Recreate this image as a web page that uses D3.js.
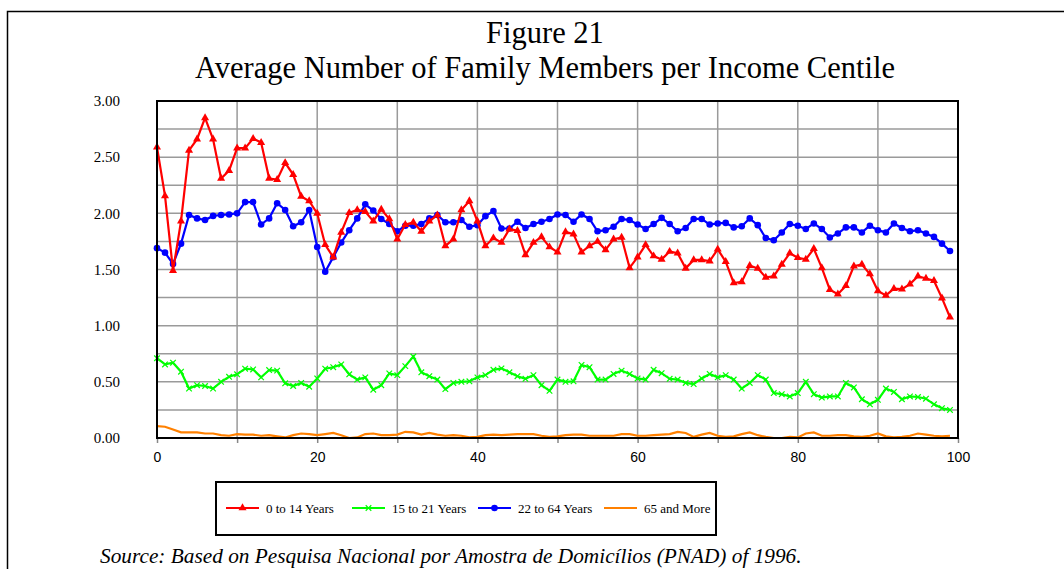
<html>
<script src="https://cdn.jsdelivr.net/npm/d3@7"></script>
<style>
body { margin: 0; background: #fff; }
svg { display: block; }
</style>
<body>
<div id="chart"></div>
<script>
// values, one per centile 0..99
var kids = [2.59,2.155,1.49,1.93,2.56,2.66,2.85,2.66,2.31,2.38,
  2.58,2.58,2.665,2.63,2.31,2.30,2.45,2.345,2.15,2.11,
  2.00,1.72,1.61,1.83,2.005,2.03,2.015,1.93,2.035,1.95,
  1.77,1.90,1.92,1.84,1.93,1.985,1.71,1.77,2.03,2.11,
  1.93,1.71,1.78,1.74,1.86,1.845,1.63,1.74,1.79,1.70,
  1.655,1.835,1.815,1.655,1.71,1.75,1.675,1.77,1.785,1.515,
  1.61,1.72,1.62,1.59,1.66,1.645,1.51,1.585,1.585,1.575,
  1.68,1.57,1.38,1.39,1.535,1.51,1.43,1.44,1.545,1.645,
  1.605,1.59,1.685,1.515,1.32,1.28,1.355,1.53,1.545,1.46,
  1.31,1.27,1.33,1.325,1.37,1.44,1.42,1.40,1.245,1.075];

var youth = [0.71,0.655,0.67,0.59,0.44,0.47,0.463,0.44,0.50,0.545,
  0.567,0.617,0.61,0.54,0.605,0.60,0.487,0.463,0.49,0.457,
  0.53,0.617,0.63,0.655,0.567,0.52,0.54,0.43,0.47,0.575,
  0.56,0.64,0.725,0.585,0.55,0.52,0.435,0.49,0.50,0.505,
  0.54,0.56,0.607,0.62,0.585,0.55,0.527,0.56,0.47,0.42,
  0.52,0.50,0.505,0.65,0.63,0.52,0.52,0.57,0.60,0.57,
  0.53,0.52,0.607,0.577,0.527,0.52,0.49,0.48,0.53,0.57,
  0.54,0.56,0.52,0.44,0.49,0.56,0.52,0.40,0.39,0.37,
  0.40,0.50,0.39,0.36,0.37,0.37,0.49,0.45,0.345,0.30,
  0.34,0.44,0.41,0.345,0.37,0.365,0.35,0.30,0.265,0.25];

var adults = [1.69,1.65,1.55,1.73,1.985,1.955,1.94,1.977,1.985,1.99,
  2.00,2.10,2.10,1.90,1.955,2.09,2.03,1.885,1.92,2.03,
  1.70,1.48,1.61,1.74,1.85,1.955,2.08,2.025,1.95,1.905,
  1.84,1.89,1.89,1.905,1.955,1.985,1.92,1.92,1.94,1.88,
  1.895,1.975,2.02,1.865,1.865,1.925,1.87,1.905,1.925,1.95,
  1.99,1.985,1.925,1.99,1.95,1.84,1.85,1.88,1.95,1.94,
  1.90,1.86,1.905,1.96,1.905,1.84,1.87,1.95,1.95,1.90,
  1.91,1.915,1.875,1.885,1.955,1.895,1.78,1.76,1.83,1.905,
  1.89,1.86,1.91,1.86,1.785,1.82,1.875,1.875,1.83,1.89,
  1.85,1.83,1.91,1.87,1.84,1.85,1.82,1.79,1.73,1.665];

var elderly = [0.105,0.10,0.075,0.05,0.05,0.05,0.04,0.04,0.025,0.02,
  0.035,0.03,0.03,0.02,0.025,0.015,0.005,0.025,0.04,0.035,
  0.025,0.035,0.045,0.025,0.0,0.005,0.035,0.04,0.025,0.025,
  0.03,0.055,0.05,0.03,0.045,0.03,0.02,0.025,0.02,0.005,
  0.01,0.025,0.03,0.025,0.03,0.035,0.035,0.035,0.02,0.01,
  0.015,0.025,0.03,0.03,0.02,0.02,0.02,0.02,0.035,0.035,
  0.02,0.02,0.025,0.03,0.035,0.055,0.045,0.01,0.03,0.045,
  0.02,0.01,0.015,0.035,0.05,0.025,0.01,0.0,0.0,0.01,
  0.005,0.04,0.05,0.02,0.02,0.025,0.025,0.015,0.01,0.02,
  0.04,0.015,0.005,0.01,0.02,0.04,0.03,0.02,0.015,0.02];

var seriesNames = ["0 to 14 Years", "15 to 21 Years", "22 to 64 Years", "65 and More"];
var xTicks = [0, 20, 40, 60, 80, 100];
var yTicks = [0, 0.5, 1.0, 1.5, 2.0, 2.5, 3.0];

var W = 1064, H = 569;
var serif = "'Liberation Serif', 'Times New Roman', serif";
var svg = d3.select("#chart").append("svg").attr("width", W).attr("height", H);

// outer frame (runs off the right and bottom of the picture)
svg.append("rect").attr("x", 7.5).attr("y", 11.5).attr("width", W).attr("height", H)
  .attr("fill", "none").attr("stroke", "#000").attr("stroke-width", 1.5);

svg.append("text").attr("x", 545).attr("y", 43).attr("text-anchor", "middle")
  .style("font-family", serif).style("font-size", "30.5px")
  .text("Figure 21");
svg.append("text").attr("x", 545).attr("y", 78).attr("text-anchor", "middle")
  .style("font-family", serif).style("font-size", "30.5px")
  .text("Average Number of Family Members per Income Centile");

var x = d3.scaleLinear().domain([0, 100]).range([157, 958]);
var y = d3.scaleLinear().domain([0, 3]).range([438, 101]);

var g = svg.append("g");

// grid
g.selectAll("line.hgrid").data(d3.range(0.25, 3, 0.25)).enter().append("line")
  .attr("class", "hgrid")
  .attr("x1", x(0)).attr("x2", x(100))
  .attr("y1", function(d) { return y(d); }).attr("y2", function(d) { return y(d); })
  .style("stroke", "#9a9a9a").style("stroke-width", 1.5);
g.selectAll("line.vgrid").data(d3.range(10, 100, 10)).enter().append("line")
  .attr("class", "vgrid")
  .attr("y1", y(0)).attr("y2", y(3))
  .attr("x1", function(d) { return x(d); }).attr("x2", function(d) { return x(d); })
  .style("stroke", "#9a9a9a").style("stroke-width", 1.5);

// x axis ticks every 10, labels every 20
var xAxis = d3.axisBottom(x).tickValues(d3.range(0, 101, 10)).tickSize(5)
  .tickFormat(function(d) { return xTicks.indexOf(d) >= 0 ? d : ""; });
var xa = svg.append("g").attr("transform", "translate(0," + y(0) + ")").call(xAxis);
xa.select(".domain").remove();
xa.selectAll("line").style("stroke", "#888").style("stroke-width", 1.5);
xa.selectAll("text").attr("dy", "1.05em").attr("y", 9)
  .style("font-family", "'Liberation Sans', Arial, sans-serif").style("font-size", "14px");

var yAxis = d3.axisLeft(y).tickValues(yTicks).tickSize(0).tickPadding(37)
  .tickFormat(d3.format(".2f"));
var ya = svg.append("g").attr("transform", "translate(" + x(0) + ",0)").call(yAxis);
ya.select(".domain").remove();
ya.selectAll("text")
  .style("font-family", serif).style("font-size", "15px");

// plot border
svg.append("rect").attr("x", x(0)).attr("y", y(3)).attr("width", x(100) - x(0)).attr("height", y(0) - y(3))
  .attr("fill", "none").attr("stroke", "#000").attr("stroke-width", 2);

var series = [
  { name: seriesNames[0], values: kids, color: "#ff0000", marker: "tri" },
  { name: seriesNames[1], values: youth, color: "#00ff00", marker: "x" },
  { name: seriesNames[2], values: adults, color: "#0000ff", marker: "dot" },
  { name: seriesNames[3], values: elderly, color: "#ff8000", marker: null }
];

var line = d3.line().x(function(d, i) { return x(i); }).y(function(d) { return y(d); });
var tri = d3.symbol().type(d3.symbolTriangle).size(28);
var cross = d3.symbol().type(d3.symbolTimes).size(22);

function drawMarker(sel, s) {
  if (s.marker == "tri") {
    sel.append("path").attr("d", tri).style("fill", s.color);
  } else if (s.marker == "dot") {
    sel.append("circle").attr("r", 3.3).style("fill", s.color);
  } else if (s.marker == "x") {
    sel.append("path").attr("d", cross).style("fill", "none").style("stroke", s.color).style("stroke-width", 1.2);
  }
}

// draw back to front: orange, green, blue, red on top
[3, 1, 2, 0].forEach(function(k) {
  var s = series[k];
  g.append("path").datum(s.values).attr("d", line)
    .style("fill", "none").style("stroke", s.color).style("stroke-width", 2.2);
  if (s.marker) {
    var m = g.selectAll("g.m" + k).data(s.values).enter().append("g")
      .attr("class", "m" + k)
      .attr("transform", function(d, i) { return "translate(" + x(i) + "," + y(d) + ")"; });
    drawMarker(m, s);
  }
});

// legend
var lg = svg.append("g");
lg.append("rect").attr("x", 216).attr("y", 482).attr("width", 500).attr("height", 53)
  .attr("fill", "#fff").attr("stroke", "#000").attr("stroke-width", 2);
var legX = [226, 352, 478, 604];
series.forEach(function(s, i) {
  var it = lg.append("g").attr("transform", "translate(" + legX[i] + ",508)");
  it.append("line").attr("x1", 0).attr("x2", 33).style("stroke", s.color).style("stroke-width", 2.2);
  if (s.marker) {
    var mk = it.append("g").attr("transform", "translate(16.5,0)");
    drawMarker(mk, s);
  }
  it.append("text").attr("x", 40).attr("y", 4.5).text(s.name)
    .style("font-family", serif).style("font-size", "13px");
});

svg.append("text").attr("x", 100).attr("y", 563)
  .style("font-family", serif).style("font-size", "21.3px")
  .style("font-style", "italic")
  .text("Source: Based on Pesquisa Nacional por Amostra de Domicílios (PNAD) of 1996.");
</script>
</body>
</html>
